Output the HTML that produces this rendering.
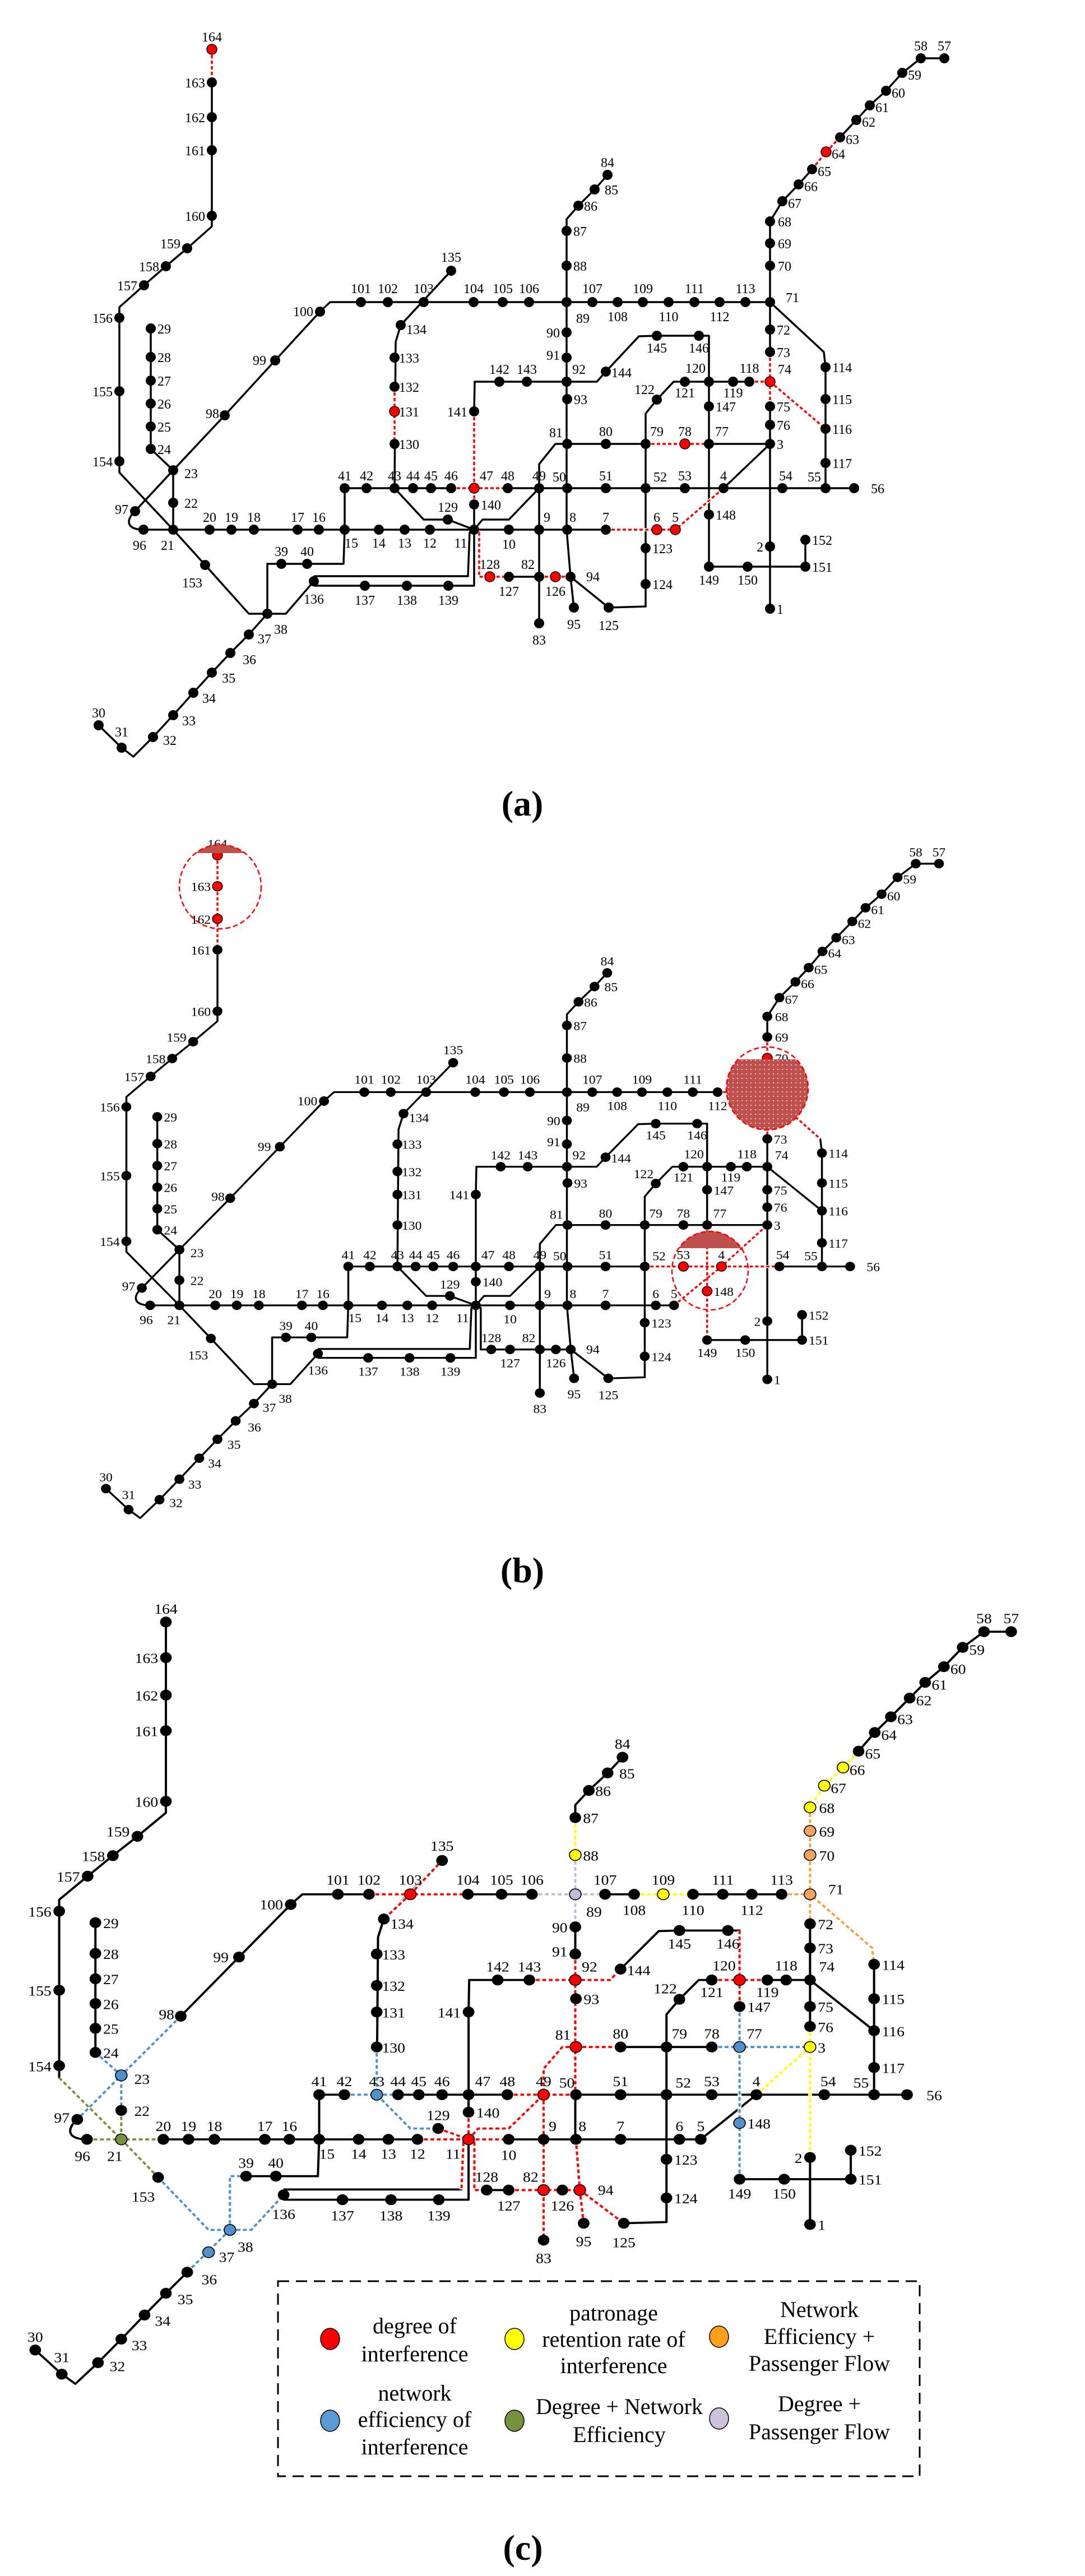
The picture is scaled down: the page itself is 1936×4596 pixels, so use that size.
<!DOCTYPE html>
<html><head><meta charset="utf-8"><style>
html,body{margin:0;padding:0;background:#fff}
svg{display:block}
text{font-family:"Liberation Serif",serif;font-size:24px;fill:#000}
.m{text-anchor:middle}.e{text-anchor:end}
.cap{font-size:64px;font-weight:bold;text-anchor:middle}
.lg{font-size:40px;text-anchor:middle}
</style></head><body>
<svg width="1936" height="4596" viewBox="0 0 1936 4596" xmlns="http://www.w3.org/2000/svg">
<defs>
<pattern id="dots" width="8" height="8" patternUnits="userSpaceOnUse"><circle cx="4" cy="4" r="1" fill="#fff"/></pattern>
<g id="E" fill="none" stroke="#000" stroke-width="3.5" stroke-linejoin="round">
<path d="M1374,1086 L1374,395 L1396,359 L1425,329 L1449,302 L1474,271 L1499,245 L1528,214 L1552,188 L1581,162 L1610,130 L1643,104 L1685,104"/>
<path d="M256,945 L1205,945 L1291,871 L1374,792"/>
<path d="M615,871 L1524,871"/>
<path d="M962,871 L962,828 L991,792 L1374,792"/>
<path d="M571,556 L589,539 L1374,539"/>
<path d="M571,556 L491,643 L401,741 L309,839 L241,912 C222,930 228,945 256,945"/>
<path d="M269,586 L269,801 L309,839 L309,945"/>
<path d="M378,88 L378,404 L334,443 L296,475 L257,509 L213,548 L213,843 L309,945 L366,1008 L444,1095 L510,1095 L560,1037"/>
<path d="M477,1095 L444,1132 L411,1165 L378,1200 L345,1236 L309,1276 L273,1315 L238,1350 L217,1334 L176,1294"/>
<path d="M477,1095 L477,1006 L613,1006 L615,945 L615,871"/>
<path d="M560,1028 L835,1028 L838,950 L846,945"/>
<path d="M560,1045 L846,1045 L846,945"/>
<path d="M846,945 L855,950 L855,1029 L874,1029 L1018,1029 L1086,1084 L1152,1082 L1152,738 L1172,713 L1202,681 L1374,681"/>
<path d="M1374,681 L1473,765"/>
<path d="M1374,539 L1470,628 L1473,655 L1473,871"/>
<path d="M1172,599 L1265,599 L1265,1011 L1437,1011 L1437,963"/>
<path d="M1011,681 L1065,681 L1081,663 L1140,600 L1172,599"/>
<path d="M846,945 L846,734 L847,681 L1011,681"/>
<path d="M704,871 L756,927 L799,927 L846,945"/>
<path d="M846,945 L861,927 L908,927 L962,871"/>
<path d="M805,483 L715,580 L706,610 L704,871"/>
<path d="M1084,312 L1061,338 L1032,367 L1011,391 L1011,945 L1018,1029 L1024,1084"/>
<path d="M962,871 L962,1112"/>
</g>
<g id="N" fill="#000">
<circle cx="1374" cy="1086" r="9"/><circle cx="1374" cy="975" r="9"/><circle cx="1374" cy="792" r="9"/><circle cx="1291" cy="871" r="9"/><circle cx="1205" cy="945" r="9"/><circle cx="1172" cy="945" r="9"/><circle cx="1081" cy="945" r="9"/><circle cx="1012" cy="945" r="9"/><circle cx="962" cy="945" r="9"/><circle cx="908" cy="945" r="9"/><circle cx="846" cy="945" r="9"/><circle cx="767" cy="945" r="9"/><circle cx="722" cy="945" r="9"/><circle cx="676" cy="945" r="9"/><circle cx="615" cy="945" r="9"/><circle cx="569" cy="945" r="9"/><circle cx="531" cy="945" r="9"/><circle cx="453" cy="945" r="9"/><circle cx="413" cy="945" r="9"/><circle cx="374" cy="945" r="9"/><circle cx="309" cy="945" r="9"/><circle cx="309" cy="897" r="9"/><circle cx="309" cy="839" r="9"/><circle cx="269" cy="801" r="9"/><circle cx="269" cy="761" r="9"/><circle cx="269" cy="720" r="9"/><circle cx="269" cy="679" r="9"/><circle cx="269" cy="637" r="9"/><circle cx="269" cy="586" r="9"/>
<circle cx="176" cy="1294" r="9"/><circle cx="217" cy="1334" r="9"/><circle cx="273" cy="1315" r="9"/><circle cx="309" cy="1276" r="9"/><circle cx="345" cy="1236" r="9"/><circle cx="378" cy="1200" r="9"/><circle cx="411" cy="1165" r="9"/><circle cx="444" cy="1132" r="9"/><circle cx="477" cy="1095" r="9"/><circle cx="502" cy="1006" r="9"/><circle cx="548" cy="1006" r="9"/>
<circle cx="615" cy="871" r="9"/><circle cx="654" cy="871" r="9"/><circle cx="704" cy="871" r="9"/><circle cx="737" cy="871" r="9"/><circle cx="769" cy="871" r="9"/><circle cx="805" cy="871" r="9"/><circle cx="846" cy="871" r="9"/><circle cx="906" cy="871" r="9"/><circle cx="962" cy="871" r="9"/><circle cx="1012" cy="871" r="9"/><circle cx="1081" cy="871" r="9"/><circle cx="1152" cy="871" r="9"/><circle cx="1222" cy="871" r="9"/><circle cx="1396" cy="871" r="9"/><circle cx="1473" cy="871" r="9"/><circle cx="1524" cy="871" r="9"/>
<circle cx="1685" cy="104" r="9"/><circle cx="1643" cy="104" r="9"/><circle cx="1610" cy="130" r="9"/><circle cx="1581" cy="162" r="9"/><circle cx="1552" cy="188" r="9"/><circle cx="1528" cy="214" r="9"/><circle cx="1499" cy="245" r="9"/><circle cx="1474" cy="271" r="9"/><circle cx="1449" cy="302" r="9"/><circle cx="1425" cy="329" r="9"/><circle cx="1396" cy="359" r="9"/><circle cx="1374" cy="395" r="9"/><circle cx="1374" cy="434" r="9"/><circle cx="1374" cy="474" r="9"/><circle cx="1374" cy="539" r="9"/><circle cx="1374" cy="588" r="9"/><circle cx="1374" cy="628" r="9"/><circle cx="1374" cy="681" r="9"/><circle cx="1374" cy="725" r="9"/><circle cx="1374" cy="758" r="9"/>
<circle cx="1265" cy="792" r="9"/><circle cx="1222" cy="792" r="9"/><circle cx="1152" cy="792" r="9"/><circle cx="1081" cy="792" r="9"/><circle cx="1012" cy="792" r="9"/><circle cx="962" cy="1029" r="9"/><circle cx="962" cy="1112" r="9"/><circle cx="1084" cy="312" r="9"/><circle cx="1061" cy="338" r="9"/><circle cx="1032" cy="367" r="9"/><circle cx="1011" cy="412" r="9"/><circle cx="1011" cy="474" r="9"/><circle cx="1011" cy="539" r="9"/><circle cx="1011" cy="593" r="9"/><circle cx="1011" cy="638" r="9"/><circle cx="1011" cy="681" r="9"/><circle cx="1012" cy="712" r="9"/><circle cx="1018" cy="1029" r="9"/><circle cx="1024" cy="1084" r="9"/><circle cx="256" cy="945" r="9"/><circle cx="241" cy="912" r="9"/><circle cx="401" cy="741" r="9"/><circle cx="491" cy="643" r="9"/><circle cx="571" cy="556" r="9"/>
<circle cx="644" cy="539" r="9"/><circle cx="692" cy="539" r="9"/><circle cx="756" cy="539" r="9"/><circle cx="845" cy="539" r="9"/><circle cx="897" cy="539" r="9"/><circle cx="944" cy="539" r="9"/><circle cx="1057" cy="539" r="9"/><circle cx="1102" cy="539" r="9"/><circle cx="1147" cy="539" r="9"/><circle cx="1193" cy="539" r="9"/><circle cx="1239" cy="539" r="9"/><circle cx="1284" cy="539" r="9"/><circle cx="1330" cy="539" r="9"/>
<circle cx="1473" cy="655" r="9"/><circle cx="1473" cy="712" r="9"/><circle cx="1473" cy="765" r="9"/><circle cx="1473" cy="826" r="9"/><circle cx="1337" cy="681" r="9"/><circle cx="1308" cy="681" r="9"/><circle cx="1265" cy="681" r="9"/><circle cx="1222" cy="681" r="9"/><circle cx="1172" cy="713" r="9"/><circle cx="1152" cy="978" r="9"/><circle cx="1152" cy="1042" r="9"/><circle cx="1086" cy="1084" r="9"/><circle cx="991" cy="1029" r="9"/><circle cx="908" cy="1029" r="9"/><circle cx="874" cy="1029" r="9"/><circle cx="799" cy="927" r="9"/><circle cx="704" cy="792" r="9"/><circle cx="704" cy="734" r="9"/><circle cx="704" cy="690" r="9"/><circle cx="704" cy="638" r="9"/><circle cx="715" cy="580" r="9"/><circle cx="805" cy="483" r="9"/><circle cx="560" cy="1037" r="9"/><circle cx="651" cy="1045" r="9"/><circle cx="726" cy="1045" r="9"/><circle cx="800" cy="1045" r="9"/><circle cx="846" cy="900" r="9"/><circle cx="846" cy="734" r="9"/><circle cx="891" cy="681" r="9"/><circle cx="940" cy="681" r="9"/><circle cx="1081" cy="663" r="9"/><circle cx="1172" cy="599" r="9"/><circle cx="1247" cy="599" r="9"/><circle cx="1265" cy="725" r="9"/><circle cx="1265" cy="918" r="9"/><circle cx="1265" cy="1011" r="9"/><circle cx="1334" cy="1011" r="9"/><circle cx="1437" cy="1011" r="9"/><circle cx="1437" cy="963" r="9"/><circle cx="366" cy="1008" r="9"/><circle cx="213" cy="823" r="9"/><circle cx="213" cy="698" r="9"/><circle cx="213" cy="567" r="9"/><circle cx="257" cy="509" r="9"/><circle cx="296" cy="475" r="9"/><circle cx="334" cy="443" r="9"/><circle cx="378" cy="385" r="9"/><circle cx="378" cy="268" r="9"/><circle cx="378" cy="209" r="9"/><circle cx="378" cy="147" r="9"/><circle cx="378" cy="88" r="9"/>
</g>
<g id="L">
<text x="1374" y="1086" dx="12" dy="9">1</text><text class="e" x="1374" y="975" dx="-12" dy="9">2</text><text x="1374" y="792" dx="12" dy="9">3</text><text class="m" x="1291" y="871" dy="-14">4</text><text class="m" x="1205" y="945" dy="-14">5</text><text class="m" x="1172" y="945" dy="-14">6</text><text class="m" x="1081" y="945" dy="-14">7</text><text x="1012" y="945" dx="4" dy="-14">8</text><text x="962" y="945" dx="8" dy="-14">9</text><text class="m" x="908" y="945" dy="34">10</text><text class="m" x="846" y="945" dx="-24" dy="32">11</text><text class="m" x="767" y="945" dy="32">12</text><text class="m" x="722" y="945" dy="32">13</text><text class="m" x="676" y="945" dy="32">14</text><text x="615" y="945" dy="32">15</text>
<text class="m" x="569" y="945" dy="-14">16</text><text class="m" x="531" y="945" dy="-14">17</text><text class="m" x="453" y="945" dy="-14">18</text><text class="m" x="413" y="945" dy="-14">19</text><text class="m" x="374" y="945" dy="-14">20</text><text class="m" x="309" y="945" dx="-10" dy="36">21</text><text x="309" y="897" dx="20" dy="9">22</text><text x="309" y="839" dx="20" dy="14">23</text><text x="269" y="801" dx="12" dy="9">24</text><text x="269" y="761" dx="12" dy="9">25</text><text x="269" y="720" dx="12" dy="9">26</text><text x="269" y="679" dx="12" dy="9">27</text><text x="269" y="637" dx="12" dy="9">28</text><text x="269" y="586" dx="12" dy="9">29</text>
<text class="m" x="176" y="1294" dy="-14">30</text><text class="m" x="217" y="1334" dy="-20">31</text><text x="273" y="1315" dx="18" dy="14">32</text><text x="309" y="1276" dx="16" dy="18">33</text><text x="345" y="1236" dx="16" dy="18">34</text><text x="378" y="1200" dx="18" dy="18">35</text><text x="411" y="1165" dx="22" dy="20">36</text><text x="444" y="1132" dx="16" dy="16">37</text><text x="477" y="1095" dx="12" dy="36">38</text><text class="m" x="502" y="1006" dy="-14">39</text><text class="m" x="548" y="1006" dy="-14">40</text>
<text class="m" x="615" y="871" dy="-14">41</text><text class="m" x="654" y="871" dy="-14">42</text><text class="m" x="704" y="871" dy="-14">43</text><text class="m" x="737" y="871" dy="-14">44</text><text class="m" x="769" y="871" dy="-14">45</text><text class="m" x="805" y="871" dy="-14">46</text><text class="m" x="846" y="871" dx="22" dy="-14">47</text><text class="m" x="906" y="871" dy="-14">48</text><text class="m" x="962" y="871" dy="-14">49</text><text class="m" x="1012" y="871" dx="-14" dy="-12">50</text><text class="m" x="1081" y="871" dy="-14">51</text><text class="m" x="1152" y="871" dx="26" dy="-12">52</text><text class="m" x="1222" y="871" dy="-14">53</text><text class="m" x="1396" y="871" dx="6" dy="-14">54</text><text class="m" x="1473" y="871" dx="-20" dy="-12">55</text><text x="1524" y="871" dx="30" dy="9">56</text>
<text class="m" x="1685" y="104" dy="-14">57</text><text class="m" x="1643" y="104" dy="-14">58</text><text x="1610" y="130" dx="10" dy="12">59</text><text x="1581" y="162" dx="10" dy="12">60</text><text x="1552" y="188" dx="10" dy="12">61</text><text x="1528" y="214" dx="10" dy="12">62</text><text x="1499" y="245" dx="10" dy="12">63</text><text x="1474" y="271" dx="10" dy="12">64</text><text x="1449" y="302" dx="10" dy="12">65</text><text x="1425" y="329" dx="10" dy="12">66</text><text x="1396" y="359" dx="10" dy="12">67</text><text x="1374" y="395" dx="14" dy="9">68</text><text x="1374" y="434" dx="14" dy="9">69</text><text x="1374" y="474" dx="14" dy="9">70</text><text x="1374" y="539" dx="28" dy="0">71</text><text x="1374" y="588" dx="12" dy="9">72</text><text x="1374" y="628" dx="12" dy="9">73</text><text x="1374" y="681" dx="14" dy="-14">74</text><text x="1374" y="725" dx="12" dy="9">75</text><text x="1374" y="758" dx="12" dy="9">76</text>
<text class="m" x="1265" y="792" dx="23" dy="-14">77</text><text class="m" x="1222" y="792" dy="-14">78</text><text class="m" x="1152" y="792" dx="20" dy="-14">79</text><text class="m" x="1081" y="792" dy="-14">80</text><text class="m" x="1012" y="792" dx="-20" dy="-12">81</text><text class="m" x="962" y="1029" dx="-20" dy="-14">82</text><text class="m" x="962" y="1112" dy="38">83</text><text class="m" x="1084" y="312" dy="-14">84</text><text x="1061" y="338" dx="18" dy="9">85</text><text x="1032" y="367" dx="10" dy="9">86</text><text x="1011" y="412" dx="12" dy="9">87</text><text x="1011" y="474" dx="12" dy="9">88</text><text x="1011" y="539" dx="17" dy="37">89</text><text class="e" x="1011" y="593" dx="-12" dy="9">90</text><text class="e" x="1011" y="638" dx="-12" dy="4">91</text><text x="1011" y="681" dx="10" dy="-14">92</text><text x="1012" y="712" dx="12" dy="9">93</text><text x="1018" y="1029" dx="28" dy="8">94</text><text class="m" x="1024" y="1084" dy="38">95</text><text class="m" x="256" y="945" dx="-7" dy="36">96</text><text class="e" x="241" y="912" dx="-12" dy="5">97</text><text class="e" x="401" y="741" dx="-10" dy="5">98</text><text class="e" x="491" y="643" dx="-16" dy="8">99</text><text class="e" x="571" y="556" dx="-12" dy="8">100</text>
<text class="m" x="644" y="539" dy="-16">101</text><text class="m" x="692" y="539" dy="-16">102</text><text class="m" x="756" y="539" dy="-16">103</text><text class="m" x="845" y="539" dy="-16">104</text><text class="m" x="897" y="539" dy="-16">105</text><text class="m" x="944" y="539" dy="-16">106</text><text class="m" x="1057" y="539" dy="-16">107</text><text class="m" x="1102" y="539" dy="34">108</text><text class="m" x="1147" y="539" dy="-16">109</text><text class="m" x="1193" y="539" dy="34">110</text><text class="m" x="1239" y="539" dy="-16">111</text><text class="m" x="1284" y="539" dy="34">112</text><text class="m" x="1330" y="539" dy="-16">113</text>
<text x="1473" y="655" dx="12" dy="9">114</text><text x="1473" y="712" dx="12" dy="9">115</text><text x="1473" y="765" dx="12" dy="9">116</text><text x="1473" y="826" dx="12" dy="9">117</text><text class="m" x="1337" y="681" dy="-16">118</text><text class="m" x="1308" y="681" dy="28">119</text><text class="m" x="1265" y="681" dx="-24" dy="-16">120</text><text class="m" x="1222" y="681" dy="28">121</text><text class="e" x="1172" y="713" dx="-4" dy="-10">122</text><text x="1152" y="978" dx="12" dy="9">123</text><text x="1152" y="1042" dx="12" dy="9">124</text><text class="m" x="1086" y="1084" dy="40">125</text><text class="m" x="991" y="1029" dy="34">126</text><text class="m" x="908" y="1029" dy="34">127</text><text class="m" x="874" y="1029" dy="-14">128</text><text class="m" x="799" y="927" dy="-14">129</text><text x="704" y="792" dx="8" dy="9">130</text><text x="704" y="734" dx="8" dy="9">131</text><text x="704" y="690" dx="8" dy="9">132</text><text x="704" y="638" dx="8" dy="9">133</text><text x="715" y="580" dx="10" dy="16">134</text><text class="m" x="805" y="483" dy="-16">135</text><text class="m" x="560" y="1037" dy="40">136</text><text class="m" x="651" y="1045" dy="34">137</text><text class="m" x="726" y="1045" dy="34">138</text><text class="m" x="800" y="1045" dy="34">139</text><text x="846" y="900" dx="12" dy="9">140</text><text class="e" x="846" y="734" dx="-12" dy="9">141</text><text class="m" x="891" y="681" dy="-14">142</text><text class="m" x="940" y="681" dy="-14">143</text><text x="1081" y="663" dx="10" dy="10">144</text><text class="m" x="1172" y="599" dy="30">145</text><text class="m" x="1247" y="599" dy="30">146</text><text x="1265" y="725" dx="12" dy="9">147</text><text x="1265" y="918" dx="12" dy="9">148</text><text class="m" x="1265" y="1011" dy="32">149</text><text class="m" x="1334" y="1011" dy="32">150</text><text x="1437" y="1011" dx="12" dy="9">151</text><text x="1437" y="963" dx="12" dy="9">152</text><text class="m" x="366" y="1008" dx="-23" dy="40">153</text><text class="e" x="213" y="823" dx="-12" dy="9">154</text><text class="e" x="213" y="698" dx="-12" dy="9">155</text><text class="e" x="213" y="567" dx="-12" dy="9">156</text><text class="e" x="257" y="509" dx="-12" dy="9">157</text><text class="e" x="296" y="475" dx="-12" dy="9">158</text><text class="e" x="334" y="443" dx="-12" dy="0">159</text><text class="e" x="378" y="385" dx="-12" dy="9">160</text><text class="e" x="378" y="268" dx="-12" dy="9">161</text><text class="e" x="378" y="209" dx="-12" dy="9">162</text><text class="e" x="378" y="147" dx="-12" dy="9">163</text><text class="m" x="378" y="88" dy="-14">164</text>
</g>
</defs>

<!-- Panel A -->
<g>
<use href="#E"/>
<g fill="none" stroke-linejoin="round">
<g stroke="#fff" stroke-width="6"><path d="M378,88 L378,147 M1499,245 L1474,271 L1449,302 M704,690 L704,792 M805,871 L906,871 M846,734 L846,900 M846,945 L855,950 L855,1029 L908,1029 M962,1029 L1018,1029 M1081,945 L1205,945 L1291,871 M1152,792 L1265,792 M1337,681 L1374,681 M1374,628 L1374,725 M1374,681 L1473,765"/></g>
<g stroke="#f00" stroke-width="3.5" stroke-dasharray="6 4"><path d="M378,88 L378,147 M1499,245 L1474,271 L1449,302 M704,690 L704,792 M805,871 L906,871 M846,734 L846,900 M846,945 L855,950 L855,1029 L908,1029 M962,1029 L1018,1029 M1081,945 L1205,945 L1291,871 M1152,792 L1265,792 M1337,681 L1374,681 M1374,628 L1374,725 M1374,681 L1473,765"/></g>
</g>
<use href="#N"/>
<use href="#L"/>
<g fill="#f00" stroke="#000" stroke-width="1.5">
<circle cx="378" cy="88" r="9"/><circle cx="1474" cy="271" r="9"/><circle cx="704" cy="734" r="9"/><circle cx="846" cy="871" r="9"/><circle cx="874" cy="1029" r="9"/><circle cx="991" cy="1029" r="9"/><circle cx="1172" cy="945" r="9"/><circle cx="1205" cy="945" r="9"/><circle cx="1222" cy="792" r="9"/><circle cx="1374" cy="681" r="9"/>
</g>
</g>
<text class="cap" x="932" y="1455">(a)</text>

<!-- Panel B -->
<g transform="matrix(0.985 0 0 0.937 15.7 1443.5)">
<use href="#E"/>
<g fill="none" stroke-linejoin="round">
<g stroke="#fff" stroke-width="6"><path d="M378,88 L378,268 M1374,434 L1374,628 M1284,539 L1374,539 L1470,628 M1152,871 L1396,871 M1205,945 L1291,871 L1374,792 M1265,792 L1265,1011"/></g>
<g stroke="#f00" stroke-width="3.5" stroke-dasharray="6 4"><path d="M378,88 L378,268 M1374,434 L1374,628 M1284,539 L1374,539 L1470,628 M1152,871 L1396,871 M1205,945 L1291,871 L1374,792 M1265,792 L1265,1011"/></g>
</g>
<use href="#N"/>
<use href="#L"/>
<g fill="#f00" stroke="#000" stroke-width="1.5">
<circle cx="378" cy="88" r="9"/><circle cx="378" cy="147" r="9"/><circle cx="378" cy="209" r="9"/><circle cx="1374" cy="474" r="9"/><circle cx="1222" cy="871" r="9"/><circle cx="1291" cy="871" r="9"/><circle cx="1265" cy="918" r="9"/>
</g>
</g>
<g>
<path d="M349,1522 A73,75 0 0 1 437,1522 Z" fill="#c0504d"/>
<ellipse cx="393" cy="1582" rx="73" ry="75" fill="none" stroke="#f00" stroke-width="2.5" stroke-dasharray="9 5"/>
<path d="M1317,1890 L1421,1890 A73,74 0 1 1 1317,1890 Z" fill="#c0504d"/>
<path d="M1317,1890 L1421,1890 A73,74 0 1 1 1317,1890 Z" fill="url(#dots)"/>
<ellipse cx="1369" cy="1942" rx="73" ry="74" fill="none" stroke="#f00" stroke-width="2.5" stroke-dasharray="9 5"/>
<path d="M1211,2227 A68,70 0 0 1 1323,2227 Z" fill="#c0504d"/>
<ellipse cx="1267" cy="2267" rx="68" ry="70" fill="none" stroke="#f00" stroke-width="2.5" stroke-dasharray="9 5"/>
</g>
<text class="cap" x="932" y="2823">(b)</text>

<!-- Panel C -->
<g transform="matrix(1.154 0 0 1.077 -140.2 2799.2)">
<use href="#E"/>
<g fill="none" stroke-linejoin="round">
<g stroke="#fff" stroke-width="6"><path d="M692,539 L845,539 M756,539 L805,483 M756,539 L715,580 M940,681 L1065,681 L1081,663 M1011,638 L1011,871 M1012,945 L1018,1029 M1012,792 L1081,792 M1012,792 L991,792 L962,828 L962,871 M906,871 L1012,871 M962,871 L962,1112 M767,945 L908,945 M799,927 L846,945 M846,900 L846,945 M846,945 L861,927 L908,927 L962,871 M846,945 L855,950 L855,1029 L874,1029 M838,950 L835,1028 M908,1029 L1018,1029 M1018,1029 L1024,1084 M1018,1029 L1086,1084 M1265,599 L1265,725 M1222,681 L1308,681 M269,801 L309,839 L309,897 M401,741 L309,839 L241,912 M654,871 L737,871 M704,792 L704,871 L756,927 L799,927 M366,1008 L444,1095 L510,1095 L560,1037 M477,1095 L477,1006 L502,1006 M477,1095 L411,1165 M1222,792 L1374,792 M1265,725 L1265,1011 M213,843 L309,945 L366,1008 M256,945 L374,945 M309,897 L309,945 M1011,412 L1011,474 M1102,539 L1193,539 M1449,302 L1425,329 L1396,359 L1374,395 M1291,871 L1374,792 M1374,758 L1374,975 M1374,395 L1374,588 M1330,539 L1374,539 L1470,628 L1473,655 M944,539 L1057,539 M1011,474 L1011,593"/></g>
<g stroke="#f00" stroke-width="3.5" stroke-dasharray="6 4"><path d="M692,539 L845,539 M756,539 L805,483 M756,539 L715,580 M940,681 L1065,681 L1081,663 M1011,638 L1011,871 M1012,945 L1018,1029 M1012,792 L1081,792 M1012,792 L991,792 L962,828 L962,871 M906,871 L1012,871 M962,871 L962,1112 M767,945 L908,945 M799,927 L846,945 M846,900 L846,945 M846,945 L861,927 L908,927 L962,871 M846,945 L855,950 L855,1029 L874,1029 M838,950 L835,1028 M908,1029 L1018,1029 M1018,1029 L1024,1084 M1018,1029 L1086,1084 M1265,599 L1265,725 M1222,681 L1308,681"/></g>
<g stroke="#4f90cd" stroke-width="3.5" stroke-dasharray="6 4"><path d="M269,801 L309,839 L309,897 M401,741 L309,839 L241,912 M654,871 L737,871 M704,792 L704,871 L756,927 L799,927 M366,1008 L444,1095 L510,1095 L560,1037 M477,1095 L477,1006 L502,1006 M477,1095 L411,1165 M1222,792 L1374,792 M1265,725 L1265,1011"/></g>
<g stroke="#76923c" stroke-width="3.5" stroke-dasharray="6 4"><path d="M213,843 L309,945 L366,1008 M256,945 L374,945 M309,897 L309,945"/></g>
<g stroke="#ffff00" stroke-width="3.5" stroke-dasharray="6 4"><path d="M1011,412 L1011,474 M1102,539 L1193,539 M1449,302 L1425,329 L1396,359 L1374,395 M1291,871 L1374,792 M1374,758 L1374,975"/></g>
<g stroke="#f7a040" stroke-width="3.5" stroke-dasharray="6 4"><path d="M1374,395 L1374,588 M1330,539 L1374,539 L1470,628 L1473,655"/></g>
<g stroke="#c3bcd6" stroke-width="3.5" stroke-dasharray="6 4"><path d="M944,539 L1057,539 M1011,474 L1011,593"/></g>
</g>
<use href="#N"/>
<use href="#L"/>
<g stroke="#000" stroke-width="1.5">
<g fill="#f00"><circle cx="756" cy="539" r="9"/><circle cx="1011" cy="681" r="9"/><circle cx="1012" cy="792" r="9"/><circle cx="962" cy="871" r="9"/><circle cx="846" cy="945" r="9"/><circle cx="1265" cy="681" r="9"/><circle cx="962" cy="1029" r="9"/><circle cx="1018" cy="1029" r="9"/></g>
<g fill="#ffff00"><circle cx="1011" cy="474" r="9"/><circle cx="1147" cy="539" r="9"/><circle cx="1425" cy="329" r="9"/><circle cx="1396" cy="359" r="9"/><circle cx="1374" cy="395" r="9"/><circle cx="1374" cy="792" r="9"/></g>
<g fill="#f4a460"><circle cx="1374" cy="434" r="9"/><circle cx="1374" cy="474" r="9"/><circle cx="1374" cy="539" r="9"/></g>
<g fill="#4f90cd"><circle cx="309" cy="839" r="9"/><circle cx="704" cy="871" r="9"/><circle cx="477" cy="1095" r="9"/><circle cx="444" cy="1132" r="9"/><circle cx="1265" cy="792" r="9"/><circle cx="1265" cy="918" r="9"/></g>
<g fill="#76923c"><circle cx="309" cy="945" r="9"/></g>
<g fill="#c3bcd6"><circle cx="1011" cy="539" r="9"/></g>
</g>
</g>

<!-- Legend -->
<rect x="496" y="4070" width="1145" height="348" fill="none" stroke="#000" stroke-width="3" stroke-dasharray="20 12"/>
<g stroke="#000" stroke-width="1.5">
<ellipse cx="589" cy="4173" rx="17" ry="19" fill="#f00"/>
<ellipse cx="918" cy="4173" rx="17" ry="19" fill="#ffff00"/>
<ellipse cx="1283" cy="4169" rx="17" ry="19" fill="#ff9f1c"/>
<ellipse cx="589" cy="4319" rx="17" ry="19" fill="#5b9bd5"/>
<ellipse cx="918" cy="4319" rx="17" ry="19" fill="#76923c"/>
<ellipse cx="1283" cy="4315" rx="17" ry="19" fill="#ccc1da"/>
</g>
<text class="lg" x="740" y="4163">degree of</text>
<text class="lg" x="740" y="4213">interference</text>
<text class="lg" x="1095" y="4140">patronage</text>
<text class="lg" x="1095" y="4187">retention rate of</text>
<text class="lg" x="1095" y="4234">interference</text>
<text class="lg" x="1462" y="4134">Network</text>
<text class="lg" x="1462" y="4182">Efficiency +</text>
<text class="lg" x="1462" y="4230">Passenger Flow</text>
<text class="lg" x="740" y="4283">network</text>
<text class="lg" x="740" y="4330">efficiency of</text>
<text class="lg" x="740" y="4379">interference</text>
<text class="lg" x="1105" y="4307">Degree + Network</text>
<text class="lg" x="1105" y="4357">Efficiency</text>
<text class="lg" x="1462" y="4302">Degree +</text>
<text class="lg" x="1462" y="4352">Passenger Flow</text>
<text class="cap" x="933" y="4567">(c)</text>
</svg>
</body></html>
